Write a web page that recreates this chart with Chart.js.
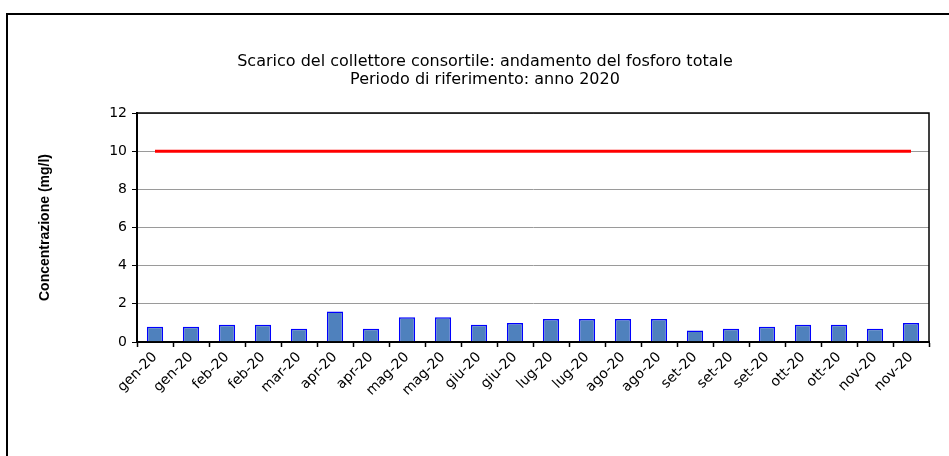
<!DOCTYPE html>
<html>
<head>
<meta charset="utf-8">
<script src="https://cdn.jsdelivr.net/npm/chart.js@4"></script>
<style>
  html, body { margin: 0; padding: 0; background: #fff; overflow: hidden; }
  #cornice { position: absolute; left: 6px; top: 13px; width: 1000px; height: 500px; border: 2px solid #000; }
  #wrap { position: absolute; left: 0; top: 0; width: 949px; height: 456px; }
</style>
</head>
<body>
<div id="cornice"></div>
<div id="wrap"><canvas id="grafico"></canvas></div>
<script>
// Dati
const mesi = ['gen-20', 'gen-20', 'feb-20', 'feb-20', 'mar-20', 'apr-20', 'apr-20', 'mag-20', 'mag-20',
  'giu-20', 'giu-20', 'lug-20', 'lug-20', 'ago-20', 'ago-20', 'set-20', 'set-20', 'set-20',
  'ott-20', 'ott-20', 'nov-20', 'nov-20'];
const fosforo = [0.8, 0.8, 0.9, 0.9, 0.7, 1.6, 0.7, 1.3, 1.3, 0.9, 1.0,
  1.2, 1.2, 1.2, 1.2, 0.6, 0.7, 0.8, 0.9, 0.9, 0.7, 1.0];
const limite = [10, 10, 10, 10, 10, 10, 10, 10, 10, 10, 10,
  10, 10, 10, 10, 10, 10, 10, 10, 10, 10, 10];
const titolo = ['Scarico del collettore consortile: andamento del fosforo totale', 'Periodo di riferimento: anno 2020'];
const titoloAsse = 'Concentrazione (mg/l)';

// Bordo nero attorno all'area del grafico
const bordoArea = {
  id: 'bordoArea',
  afterDraw(chart) {
    const { ctx, chartArea: a } = chart;
    ctx.save();
    ctx.strokeStyle = '#000';
    ctx.lineWidth = 1.5;
    ctx.strokeRect(a.left, a.top, a.right - a.left, a.bottom - a.top);
    ctx.restore();
  }
};

const ctx = document.getElementById('grafico').getContext('2d');

new Chart(ctx, {
  type: 'bar',
  data: {
    labels: mesi,
    datasets: [{
      type: 'line',
      label: 'Limite',
      data: limite,
      borderColor: '#ff0000',
      borderWidth: 3,
      pointRadius: 0,
      fill: false
    }, {
      label: 'Fosforo totale',
      data: fosforo,
      backgroundColor: '#4f81bd',
      borderColor: '#0000ff',
      borderWidth: 1.5,
      barPercentage: 0.45,
      categoryPercentage: 1
    }]
  },
  options: {
    responsive: true,
    maintainAspectRatio: false,
    animation: false,
    layout: { padding: { left: 41, right: 20, top: 0, bottom: 0 } },
    plugins: {
      legend: { display: false },
      tooltip: { enabled: false },
      title: {
        display: true,
        text: titolo,
        color: '#000',
        font: { family: 'DejaVu Sans', size: 16, weight: 'normal', lineHeight: 1.125 },
        padding: { top: 53, bottom: 24 }
      }
    },
    scales: {
      x: {
        ticks: {
          autoSkip: false,
          minRotation: 45,
          maxRotation: 45,
          color: '#000',
          padding: 2,
          font: { family: 'DejaVu Sans', size: 14 }
        },
        grid: { drawOnChartArea: false, tickLength: 5, tickColor: '#000', tickWidth: 1.5 },
        border: { color: '#000', width: 2 },
        afterFit: (s) => { s.height = 114; }
      },
      y: {
        min: 0,
        max: 12,
        ticks: {
          stepSize: 2,
          color: '#000',
          padding: 5,
          font: { family: 'DejaVu Sans', size: 14 }
        },
        grid: { color: '#9a9a9a', lineWidth: 1, tickLength: 5, tickColor: '#000' },
        border: { color: '#000', width: 2 },
        title: {
          display: true,
          text: titoloAsse,
          color: '#000',
          font: { family: 'Liberation Sans', size: 14, weight: 'bold' },
          padding: { top: -4, bottom: 0 }
        },
        afterFit: (s) => { s.width = 96; }
      }
    }
  },
  plugins: [bordoArea]
});
</script>
</body>
</html>
